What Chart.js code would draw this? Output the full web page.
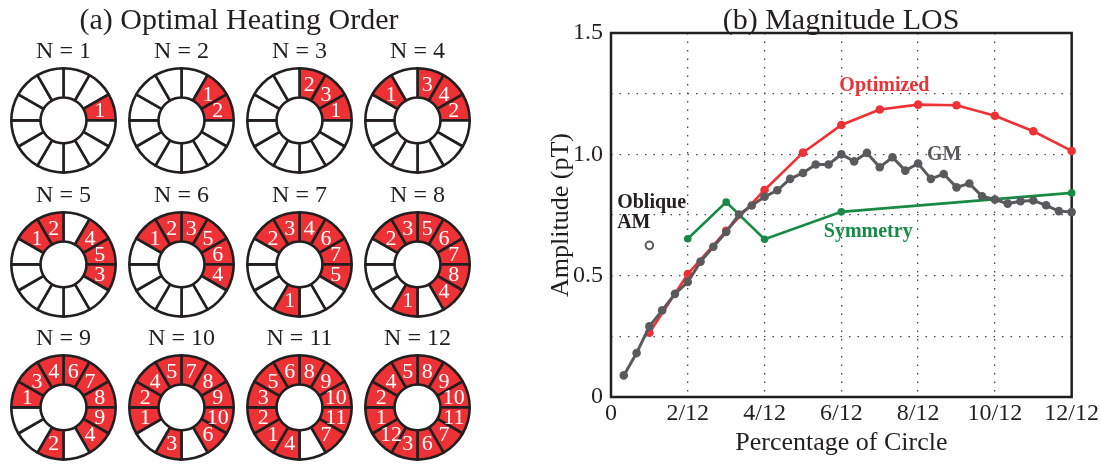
<!DOCTYPE html>
<html>
<head>
<meta charset="utf-8">
<script src="https://cdn.jsdelivr.net/npm/chart.js@4.4.1/dist/chart.umd.min.js"></script>
<style>
  body { margin: 0; background: #fff; }
  #lienzo { position: relative; width: 1101px; height: 464px; overflow: hidden; }
  canvas { display: block; }
  .anillo { position: absolute; }
  #grafico { position: absolute; left: 0; top: 0; }
</style>
</head>
<body>
<div id="lienzo">
  <canvas id="grafico" width="1101" height="464"></canvas>
</div>
<script>
// orden de calentamiento de los 12 segmentos, en sentido horario desde arriba ('' = sin calentar)
const ordenes = [
  ['', '', '1', '', '', '', '', '', '', '', '', ''],
  ['', '1', '2', '', '', '', '', '', '', '', '', ''],
  ['2', '3', '1', '', '', '', '', '', '', '', '', ''],
  ['3', '4', '2', '', '', '', '', '', '', '', '1', ''],
  ['', '4', '5', '3', '', '', '', '', '', '', '1', '2'],
  ['3', '5', '6', '4', '', '', '', '', '', '', '1', '2'],
  ['4', '6', '7', '5', '', '', '1', '', '', '', '2', '3'],
  ['5', '6', '7', '8', '4', '', '1', '', '', '', '2', '3'],
  ['6', '7', '8', '9', '4', '', '2', '', '', '1', '3', '4'],
  ['7', '8', '9', '10', '6', '', '3', '', '1', '2', '4', '5'],
  ['8', '9', '10', '11', '7', '', '4', '1', '2', '3', '5', '6'],
  ['8', '9', '10', '11', '7', '6', '3', '12', '1', '2', '4', '5']
]
const titulosN = ['N = 1', 'N = 2', 'N = 3', 'N = 4', 'N = 5', 'N = 6', 'N = 7', 'N = 8', 'N = 9', 'N = 10', 'N = 11', 'N = 12']
const segmentos = [1, 1, 1, 1, 1, 1, 1, 1, 1, 1, 1, 1]

// eje x en doceavos de circulo
const optimizadoX = [1, 2, 3, 4, 5, 6, 7, 8, 9, 10, 11, 12]
const optimizadoY = [0.265, 0.507, 0.685, 0.853, 1.007, 1.121, 1.185, 1.205, 1.202, 1.159, 1.095, 1.014]

const simetriaX = [2, 3, 4, 6, 12]
const simetriaY = [0.652, 0.803, 0.650, 0.763, 0.841]

const gmY = [0.089, 0.181, 0.291, 0.357, 0.425, 0.474, 0.558, 0.619, 0.680, 0.752, 0.789, 0.825,
  0.852, 0.899, 0.923, 0.958, 0.958, 1.000, 0.971, 1.006, 0.947, 0.988, 0.933, 0.962,
  0.899, 0.919, 0.864, 0.880, 0.827, 0.814, 0.797, 0.807, 0.810, 0.790, 0.766, 0.762]
const gmX = gmY.map((v, i) => (i + 1) / 3)

const obliqueX = [1]
const obliqueY = [0.625]

const ticksX = [0, 2, 4, 6, 8, 10, 12]
const ticksY = [0, 0.5, 1.0, 1.5]

const rojo = '#ee3135'
const gris = '#5a5a5c'
const verde = '#178a45'
const tinta = '#231f20'
const fuente = "'Liberation Serif', 'Times New Roman', serif"

// centros de los anillos en la pagina
const columnasX = [63.5, 181, 299, 417.5]
const filasY = [120, 264, 407]
const tamanoAnillo = 107
const altoAnillo = 137
const centroAnilloY = 83.4

// numeros blancos dentro de cada segmento rojo
const numerosAnillo = {
  id: 'numerosAnillo',
  afterDatasetsDraw(chart) {
    const { ctx } = chart
    const meta = chart.getDatasetMeta(0)
    ctx.save()
    ctx.fillStyle = '#fff'
    ctx.font = `22px ${fuente}`
    ctx.textAlign = 'center'
    ctx.textBaseline = 'middle'
    meta.data.forEach((arco, i) => {
      const texto = chart.data.labels[i]
      if (!texto) return
      const { x, y } = arco.getCenterPoint()
      ctx.fillText(texto, x, y + 1)
    })
    ctx.restore()
  }
}

const lienzo = document.querySelector('#lienzo')

const crearAnillo = (orden, titulo, indice) => {
  const cx = columnasX[indice % 4]
  const cy = filasY[Math.floor(indice / 4)]

  const canvas = document.createElement('canvas')
  canvas.className = 'anillo'
  canvas.width = tamanoAnillo
  canvas.height = altoAnillo
  canvas.style.left = (cx - tamanoAnillo / 2) + 'px'
  canvas.style.top = (cy - centroAnilloY) + 'px'
  lienzo.appendChild(canvas)

  new Chart(canvas, {
    type: 'doughnut',
    data: {
      labels: orden,
      datasets: [{
        data: segmentos,
        backgroundColor: orden.map(t => t ? rojo : '#fff'),
        borderColor: tinta,
        borderWidth: 2.6,
        hoverOffset: 0
      }]
    },
    options: {
      responsive: false,
      animation: false,
      events: [],
      cutout: '44%',
      plugins: {
        legend: { display: false },
        tooltip: { enabled: false },
        title: {
          display: true,
          text: titulo,
          color: tinta,
          font: { family: fuente, size: 24, weight: 'normal' },
          padding: { top: 0, bottom: 1 }
        }
      }
    },
    plugins: [numerosAnillo]
  })
}

// marco negro alrededor del area de datos
const marco = {
  id: 'marco',
  beforeDatasetsDraw(chart) {
    const { ctx, chartArea: a } = chart
    ctx.save()
    ctx.strokeStyle = tinta
    ctx.lineWidth = 2.5
    ctx.strokeRect(a.left, a.top, a.right - a.left, a.bottom - a.top)
    ctx.restore()
  }
}

// titulos de los dos paneles
const titulosPaneles = [
  { texto: '(a) Optimal Heating Order', x: 239, y: 21 },
  { texto: '(b) Magnitude LOS', x: 841, y: 21 }
]

const encabezados = {
  id: 'encabezados',
  afterDraw(chart) {
    const { ctx } = chart
    ctx.save()
    ctx.fillStyle = tinta
    ctx.font = `30px ${fuente}`
    ctx.textAlign = 'center'
    ctx.textBaseline = 'middle'
    titulosPaneles.forEach(t => ctx.fillText(t.texto, t.x, t.y))
    ctx.restore()
  }
}

// textos de cada serie, ubicados en coordenadas de datos
const notas = [
  { texto: 'Optimized', x: 7.12, y: 1.282, color: rojo, align: 'center' },
  { texto: 'GM', x: 8.68, y: 0.999, color: gris, align: 'center' },
  { texto: 'Symmetry', x: 6.70, y: 0.682, color: verde, align: 'center' },
  { texto: 'Oblique', x: 0.16, y: 0.801, color: tinta, align: 'left' },
  { texto: 'AM', x: 0.16, y: 0.719, color: tinta, align: 'left' }
]

const anotaciones = {
  id: 'anotaciones',
  afterDatasetsDraw(chart) {
    const { ctx, scales: { x, y } } = chart
    ctx.save()
    ctx.font = `bold 20px ${fuente}`
    ctx.textBaseline = 'middle'
    notas.forEach(n => {
      ctx.fillStyle = n.color
      ctx.textAlign = n.align
      ctx.fillText(n.texto, x.getPixelForValue(n.x), y.getPixelForValue(n.y))
    })
    ctx.restore()
  }
}

const juntar = (xs, ys) => xs.map((x, i) => ({ x, y: ys[i] }))

const fuenteTicks = { family: fuente, size: 24 }
const fuenteTitulos = { family: fuente, size: 26 }

new Chart(document.getElementById('grafico'), {
  type: 'line',
  data: {
    datasets: [
      {
        label: 'GM',
        data: juntar(gmX, gmY),
        borderColor: gris,
        backgroundColor: gris,
        borderWidth: 3,
        pointRadius: 4.3,
        pointBorderWidth: 0,
        clip: false,
        order: 0
      },
      {
        label: 'Optimized',
        data: juntar(optimizadoX, optimizadoY),
        borderColor: rojo,
        backgroundColor: rojo,
        borderWidth: 2.6,
        pointRadius: 4.3,
        pointBorderWidth: 0,
        clip: false,
        order: 1
      },
      {
        label: 'Symmetry',
        data: juntar(simetriaX, simetriaY),
        borderColor: verde,
        backgroundColor: verde,
        borderWidth: 2.6,
        pointRadius: 3.8,
        pointBorderWidth: 0,
        clip: false,
        order: 2
      },
      {
        label: 'Oblique AM',
        data: juntar(obliqueX, obliqueY),
        showLine: false,
        borderColor: gris,
        backgroundColor: '#fff',
        pointRadius: 3.8,
        pointBorderWidth: 2,
        clip: false,
        order: 3
      }
    ]
  },
  options: {
    responsive: false,
    animation: false,
    events: [],
    layout: { padding: { top: 33, right: 28, left: 540, bottom: 0 } },
    plugins: { legend: { display: false }, tooltip: { enabled: false } },
    scales: {
      x: {
        type: 'linear',
        min: 0,
        max: 12,
        afterFit: s => { s.height = 67 },
        ticks: {
          stepSize: 2,
          padding: 2,
          color: tinta,
          font: fuenteTicks,
          maxRotation: 0,
          callback: v => ticksX.includes(v) ? (v === 0 ? '0' : v + '/12') : ''
        },
        grid: { color: '#444', lineWidth: 1.3, drawTicks: false },
        border: { display: false, dash: [1.5, 7] },
        title: { display: true, text: 'Percentage of Circle', color: tinta, font: fuenteTitulos, padding: { top: 0, bottom: 5 } }
      },
      y: {
        min: 0,
        max: 1.5,
        afterFit: s => { s.width = 71 },
        ticks: {
          stepSize: 0.25,
          padding: 8,
          color: tinta,
          font: fuenteTicks,
          callback: v => ticksY.includes(v) ? (v === 0 ? '0' : v.toFixed(1)) : ''
        },
        grid: { color: '#444', lineWidth: 1.3, drawTicks: false },
        border: { display: false, dash: [1.5, 7] },
        title: { display: true, text: 'Amplitude (pT)', color: tinta, font: fuenteTitulos, padding: { top: 6, bottom: 0 } }
      }
    }
  },
  plugins: [marco, anotaciones, encabezados]
})

ordenes.forEach((orden, i) => crearAnillo(orden, titulosN[i], i))
</script>
</body>
</html>
